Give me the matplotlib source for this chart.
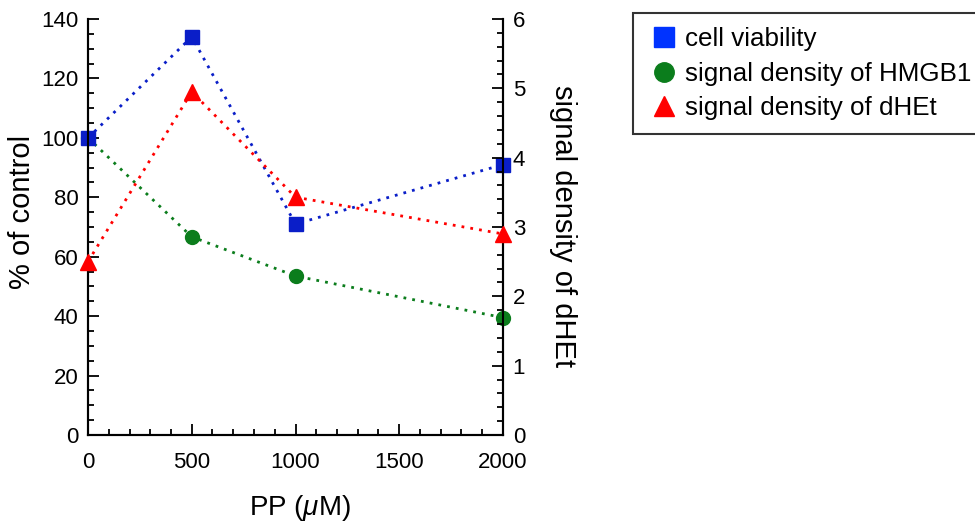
import numpy as np
import matplotlib
matplotlib.use("Agg")
import matplotlib.pyplot as plt
from matplotlib.ticker import MultipleLocator
from matplotlib.lines import Line2D

plt.rcParams['font.family'] = ['Liberation Sans', 'DejaVu Sans']
plt.rcParams['mathtext.fontset'] = 'custom'
plt.rcParams['mathtext.rm'] = 'Liberation Sans'
plt.rcParams['mathtext.it'] = 'Liberation Sans:italic'

# data
pp = [0, 500, 1000, 2000]
viability = [100, 134, 71, 91]          # % of control
hmgb1 = [100, 66.7, 53.5, 39.5]         # % of control
dhet = [2.5, 4.95, 3.43, 2.9]           # signal density (right axis)

c_blue = '#0a1ec8'
c_green = '#0b7d1c'
c_red = '#ff0000'
dots = (0, (1, 2.2))

fig = plt.figure(figsize=(9.75, 5.29), dpi=100)
ax = fig.add_axes([88/975, 1-435/529, (503-88)/975, (435-19)/529])
ax2 = ax.twinx()

ax.plot(pp, hmgb1, linestyle=dots, lw=2, color=c_green, marker='o', markersize=10,
        zorder=3, clip_on=False)
ax.plot(pp, viability, linestyle=dots, lw=2, color=c_blue, marker='s', markersize=10,
        zorder=4, clip_on=False)
ax2.plot(pp, dhet, linestyle=dots, lw=2, color=c_red, marker='^', markersize=11,
         zorder=3, clip_on=False)

ax.set_xlim(0, 2000)
ax.set_ylim(0, 140)
ax2.set_ylim(0, 6)

ax.xaxis.set_major_locator(MultipleLocator(500))
ax.xaxis.set_minor_locator(MultipleLocator(100))
ax.yaxis.set_major_locator(MultipleLocator(20))
ax.yaxis.set_minor_locator(MultipleLocator(5))
ax2.yaxis.set_major_locator(MultipleLocator(1))
ax2.yaxis.set_minor_locator(MultipleLocator(0.2))

for a in (ax, ax2):
    for s in a.spines.values():
        s.set_linewidth(1.5)
    a.tick_params(which='major', direction='in', length=8, width=1.3, labelsize=16)
    a.tick_params(which='minor', direction='in', length=4.5, width=1.3)
ax.tick_params(axis='y', pad=7)
ax.tick_params(axis='x', pad=12)
ax2.tick_params(axis='y', pad=7)
ax.spines['top'].set_visible(False)
ax2.spines['top'].set_visible(False)
ax.tick_params(right=False, which='both')

ax.set_xlabel('PP ($\\mu$M)', fontsize=20, va='center')
ax.xaxis.set_label_coords(0.511, -0.175)
ax.set_ylabel('% of control', fontsize=21, va='center')
ax.yaxis.set_label_coords(-0.159, 0.536)
ax2.set_ylabel('signal density of dHEt', fontsize=21, rotation=270, va='center')
ax2.yaxis.set_label_coords(1.145, 0.502)

handles = [
    Line2D([], [], linestyle='none', marker='s', markersize=14, color='#0033ff'),
    Line2D([], [], linestyle='none', marker='o', markersize=14, color=c_green),
    Line2D([], [], linestyle='none', marker='^', markersize=15, color=c_red),
]
labels = ['cell viability', 'signal density of HMGB1', 'signal density of dHEt']
leg = fig.legend(handles, labels, loc='upper left', bbox_to_anchor=(633/975, 1-13/529),
                 fontsize=18.7, frameon=True, fancybox=False, handlelength=1.3,
                 handletextpad=0.15, labelspacing=0.4, borderpad=0.55, borderaxespad=0)
leg.get_frame().set_edgecolor('black')
leg.get_frame().set_linewidth(1.5)

fig.savefig('out.png', dpi=100)
